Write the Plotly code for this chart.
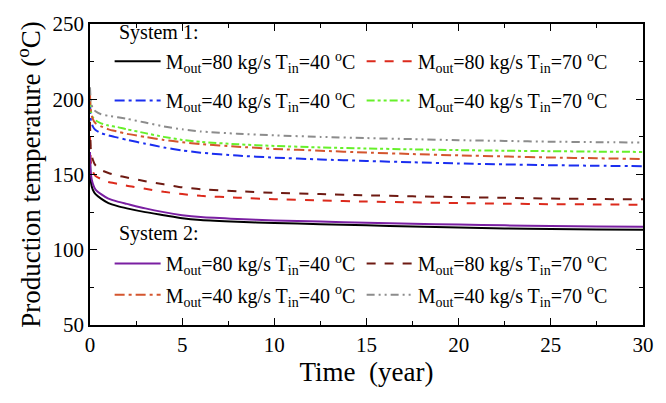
import plotly.graph_objects as go

time = [0, 0.05, 0.15, 0.3, 0.6, 1, 1.5, 2, 3, 4, 5, 6, 8, 10, 12.5, 15, 17.5, 20, 22.5, 25, 27.5, 30]

s1_m80_t40 = [158, 145, 140, 137, 134, 131, 129, 127.5, 125, 123, 121, 119.8, 118.6, 117.8, 117, 116.2, 115.5, 114.8, 114.2, 113.8, 113.5, 113.3]
s1_m80_t70 = [175, 158, 152, 149, 147, 145, 143.8, 142.5, 140.5, 138.5, 137, 135.8, 134.6, 133.6, 132.7, 132, 131.5, 131, 130.6, 130.3, 130.1, 129.9]
s1_m40_t40 = [197, 186, 182, 179.5, 177.5, 176, 174.5, 173, 170.5, 168, 166, 164.5, 162.6, 161.2, 160, 159, 158.1, 157.3, 156.7, 156.2, 155.8, 155.5]
s1_m40_t70 = [200, 192, 188, 186, 184, 182.5, 181.5, 180, 177.5, 175, 173, 171.7, 170.1, 169, 168, 167.3, 166.7, 166.2, 165.8, 165.5, 165.2, 165]

s2_m80_t40 = [165, 150, 144, 140, 137, 134, 132, 130.5, 127.5, 125, 123, 121.7, 120.4, 119.5, 118.7, 118, 117.3, 116.7, 116.2, 115.8, 115.5, 115.2]
s2_m80_t70 = [185, 166, 160, 156, 153, 151, 149.3, 148, 145.5, 143.5, 141.5, 140.2, 138.9, 137.8, 137, 136.2, 135.5, 135, 134.5, 134, 133.7, 133.5]
s2_m40_t40 = [203, 192, 187, 184, 182, 180, 178.5, 177, 175, 173, 171.5, 170.2, 168.5, 167, 165.8, 164.6, 163.6, 162.7, 162, 161.3, 160.8, 160.3]
s2_m40_t70 = [208, 198, 194, 192, 190, 189, 188, 187, 184.5, 182, 180, 178.6, 177.1, 176, 175, 174.2, 173.5, 172.8, 172.3, 171.8, 171.5, 171.2]

group_titles = ["System 1:", "System 2:"]

def lab(m, t):
    return f"M<sub>out</sub>={m} kg/s T<sub>in</sub>={t} <sup>o</sup>C"

series = [
    (s1_m80_t40, lab(80, 40), "#000000", "solid", "legend"),
    (s1_m80_t70, lab(80, 70), "#dc2a1c", "dash", "legend"),
    (s1_m40_t40, lab(40, 40), "#1a2ef0", "10px,4px,3px,4px", "legend3"),
    (s1_m40_t70, lab(40, 70), "#66f02a", "8px,3px,3px,3px,3px,3px", "legend3"),
    (s2_m80_t40, lab(80, 40), "#7a1fa2", "solid", "legend2"),
    (s2_m80_t70, lab(80, 70), "#6e1a12", "dash", "legend2"),
    (s2_m40_t40, lab(40, 40), "#d4552e", "10px,4px,3px,4px", "legend4"),
    (s2_m40_t70, lab(40, 70), "#8c8c8c", "8px,4px,2px,4px,2px,4px", "legend4"),
]

fig = go.Figure()
for ys, name, color, dash, lg in series:
    fig.add_trace(go.Scatter(x=time, y=ys, mode="lines", name=name,
                             line=dict(color=color, width=2, dash=dash, shape="spline", smoothing=0.6),
                             legend=lg))

font = "Liberation Serif, Times New Roman, serif"
axis_common = dict(showline=True, linecolor="black", linewidth=1.5, mirror="allticks",
                   ticks="inside", ticklen=7, tickwidth=1.2, tickcolor="black",
                   showgrid=False, zeroline=False,
                   tickfont=dict(family=font, size=21, color="black"))

fig.update_xaxes(range=[0, 30], dtick=5, tick0=0,
                 minor=dict(ticks="inside", ticklen=4, dtick=2.5, tickcolor="black", tickwidth=1.2),
                 title=dict(text="Time  (year)", font=dict(family=font, size=27, color="black"), standoff=6),
                 **axis_common)
fig.update_yaxes(range=[50, 250], dtick=50, tick0=50,
                 minor=dict(ticks="inside", ticklen=4, dtick=25, tickcolor="black", tickwidth=1.2),
                 title=dict(text="Production temperature (<sup>o</sup>C)", font=dict(family=font, size=27, color="black"), standoff=4),
                 **axis_common)

leg_common = dict(orientation="h", xanchor="left", yanchor="middle", bgcolor="rgba(0,0,0,0)",
                  font=dict(family=font, size=20, color="black"),
                  itemwidth=46, entrywidth=191, x=0.0355)
fig.update_layout(
    width=666, height=403,
    margin=dict(l=90, r=13, t=17, b=78),
    paper_bgcolor="white", plot_bgcolor="white",
    showlegend=True,
    legend=dict(y=0.876, **leg_common),
    legend3=dict(y=0.746, **leg_common),
    legend2=dict(y=0.2045, **leg_common),
    legend4=dict(y=0.1005, **leg_common),
)
for txt, yy in zip(group_titles, [0.972, 0.303]):
    fig.add_annotation(text=txt, xref="paper", yref="paper", x=0.048, y=yy,
                       xanchor="left", yanchor="middle", showarrow=False,
                       font=dict(family=font, size=20, color="black"))

fig.write_html("out.html")
